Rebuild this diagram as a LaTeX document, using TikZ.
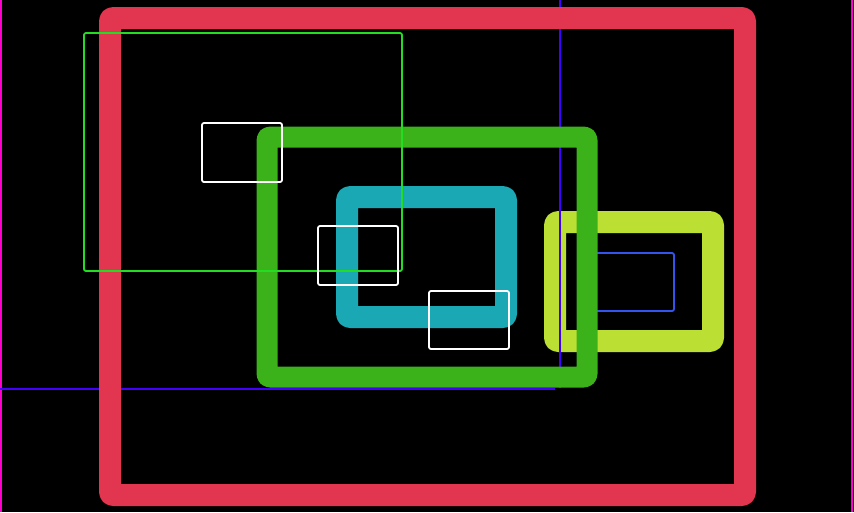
\documentclass[tikz,border=0pt]{standalone}
\usepackage{tikz}
\definecolor{framered}{RGB}{226, 53, 80}
\definecolor{grassgreen}{RGB}{59, 178, 26}
\definecolor{boxteal}{RGB}{26, 168, 180}
\definecolor{limegreen}{RGB}{187, 224, 51}
\definecolor{markgreen}{RGB}{34, 221, 34}
\definecolor{guideblue}{RGB}{68, 0, 255}
\definecolor{edgepink}{RGB}{255, 0, 204}
\definecolor{innerblue}{RGB}{51, 85, 238}

\begin{document}
\begin{tikzpicture}[
  x=1pt, y=-1pt,
  thick box/.style={line width=#1, rounded corners=3pt, line join=round},
  thin box/.style={line width=1.8pt, rounded corners=2pt},
  guide line/.style={draw=guideblue, line width=2pt}
]
  \fill[black] (0,0) rectangle (854,512);
  \useasboundingbox (0,0) rectangle (854,512);

  % edges of the page
  \draw[edgepink, line width=2pt] (1,0) -- (1,512);
  \draw[edgepink, line width=2pt] (852,0) -- (852,512);

  % lime box, then guides
  \draw[limegreen, thick box=22pt] (555,222) rectangle (713,341);
  \draw[guide line] (560,0) -- (560,388);
  \draw[guide line] (0,389) -- (555,389);
  \draw[innerblue, thin box] (590,253) rectangle (674,311);

  % big frames
  \draw[framered, thick box=22pt] (110,18) rectangle (745,495);
  \draw[grassgreen, thick box=21pt] (267,137) rectangle (587,377);
  \draw[boxteal, thick box=22pt] (347,197) rectangle (506,317);

  % thin marks
  \draw[markgreen, thin box] (84,33) rectangle (402,271);
  \draw[white, thin box] (202,123) rectangle (282,182);
  \draw[white, thin box] (318,226) rectangle (398,285);
  \draw[white, thin box] (429,291) rectangle (509,349);
\end{tikzpicture}
\end{document}
